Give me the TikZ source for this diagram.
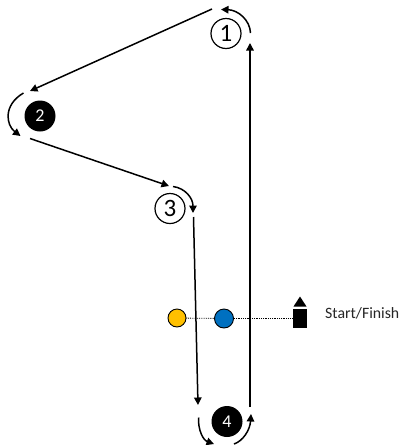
\documentclass[tikz,border=0pt]{standalone}
\usepackage{fontspec}
\setmainfont{Carlito}
\usetikzlibrary{arrows.meta,shapes.geometric}
\tikzset{
  leg/.style={line width=1.5pt,-{Triangle[length=7.5pt,width=7.5pt]}},
  turn/.style={line width=1.5pt,-{Triangle[length=7.5pt,width=7.5pt]}},
  openmark/.style={circle,draw=black,line width=1.2pt,fill=white,minimum size=30pt,inner sep=0pt,font=\fontsize{25}{25}\selectfont},
  solidmark/.style={circle,fill=black,minimum size=31pt,inner sep=0pt,text=white,font=\fontsize{18}{18}\selectfont},
  buoy/.style={circle,draw=black,line width=0.9pt,inner sep=0pt},
  startline/.style={densely dotted,line width=0.8pt}
}
\begin{document}
\begin{tikzpicture}[x=1pt,y=-1pt]
\useasboundingbox (0,0) rectangle (403,445);
\node[openmark] (m1) at (226,33.5) {1};
\node[solidmark] (m2) at (40,116) {2};
\node[openmark] (m3) at (170,208.5) {3};
\node[solidmark] (m4) at (227,421.5) {4};
\node[buoy,fill={rgb,255:red,255;green,192;blue,0},minimum size=18pt] (yellow) at (177,318) {};
\node[buoy,fill={rgb,255:red,0;green,112;blue,192},minimum size=19pt] (blue) at (224,318.5) {};
\node[fill=black,minimum width=14pt,minimum height=19pt,inner sep=0pt] (boat) at (300,318.5) {};
\node[fill=black,isosceles triangle,shape border rotate=90,isosceles triangle apex angle=80,isosceles triangle stretches,minimum width=13pt,minimum height=10pt,inner sep=0pt] (bow) at (300,303) {};
\node[anchor=west,inner sep=0pt,font=\fontsize{15.8}{16}\selectfont,text={rgb,255:red,38;green,38;blue,38}] (label) at (325,313.5) {Start/Finish};
\coordinate (a1s) at (250.5,33);
\coordinate (a1e) at (221,9.5);
\coordinate (l12s) at (212,9);
\coordinate (l12e) at (30,91);
\coordinate (a2s) at (23.5,93);
\coordinate (a2e) at (20.5,136);
\coordinate (l23s) at (30,138.5);
\coordinate (l23e) at (169,186);
\coordinate (a3s) at (173,186.5);
\coordinate (a3e) at (193,213);
\coordinate (l34s) at (193.5,217);
\coordinate (l34e) at (198,405);
\coordinate (a4s) at (198.5,417.5);
\coordinate (a4e) at (214,444);
\coordinate (a5s) at (234,444);
\coordinate (a5e) at (251,414);
\coordinate (l41s) at (250,407);
\coordinate (l41e) at (250,43);
\draw[startline] (yellow) -- (blue);
\draw[startline] (blue) -- (boat);
\draw[leg] (l41s) -- (l41e);
\draw[leg] (l34s) -- (l34e);
\draw[leg] (l12s) -- (l12e);
\draw[leg] (l23s) -- (l23e);
\draw[turn] (a1s) .. controls (250,20) and (238,10) .. (a1e);
\draw[turn] (a2s) .. controls (3,105) and (6,125) .. (a2e);
\draw[turn] (a3s) .. controls (185,188) and (193,198) .. (a3e);
\draw[turn] (a4s) .. controls (198,430) and (203,440) .. (a4e);
\draw[turn] (a5s) .. controls (243,441) and (250,430) .. (a5e);
\end{tikzpicture}
\end{document}
